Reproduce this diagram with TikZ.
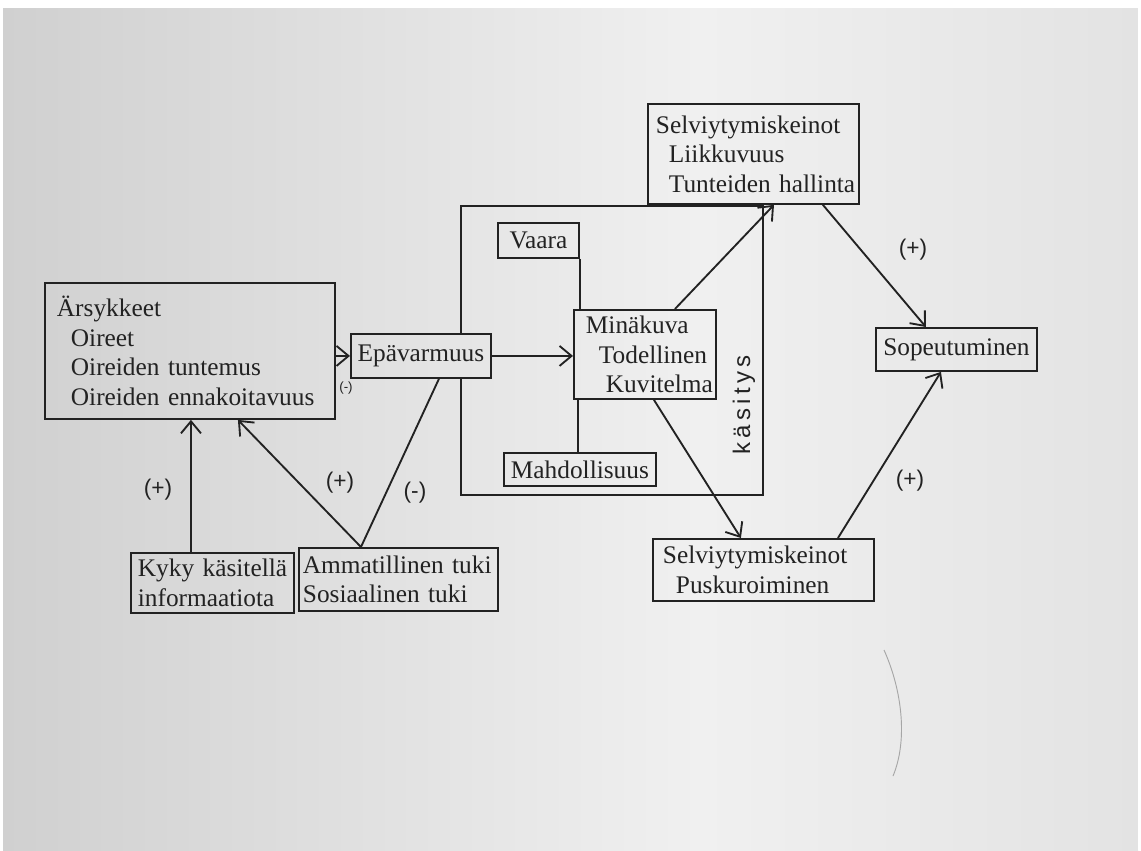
\documentclass[tikz,border=0pt]{standalone}
\usepackage{fontspec}
\setmainfont{Liberation Serif}
\newfontfamily\handfont{Liberation Sans}
\newfontfamily\handspaced[LetterSpace=18]{Liberation Sans}
\usetikzlibrary{arrows.meta,calc}
\definecolor{ink}{HTML}{222222}
\definecolor{bgL}{HTML}{D0D0D0}
\definecolor{bgM}{HTML}{F0F0F0}
\definecolor{bgR}{HTML}{E3E3E3}
\newcommand{\tline}[1]{\mbox{#1}}
\begin{document}
\begin{tikzpicture}[x=0.75pt,y=-0.75pt,
  box/.style={draw=ink, line width=1.4pt, rectangle, anchor=north west, inner ysep=0pt,
    font=\fontsize{19}{22.1}\selectfont, text=ink, align=left},
  arr/.style={draw=ink, line width=1.4pt, -{Straight Barb[length=9pt,width=15pt,line width=1.4pt]}},
  con/.style={draw=ink, line width=1.4pt},
  sign/.style={font=\handfont\fontsize{17}{17}\selectfont, text=ink}]
\useasboundingbox (0,0) rectangle (1141,850);
% background paper
\shade[left color=bgL, right color=bgM] (3,8) rectangle (700,850);
\shade[left color=bgM, right color=bgR] (700,8) rectangle (1138,850);
\fill[white] (0,0) rectangle (1141,8);
\fill[white] (0,0) rectangle (3,850);
\fill[white] (1138,0) rectangle (1141,850);
% pencil mark
\draw[gray!70, line width=0.7pt] (884,650) .. controls (902,690) and (908,740) .. (893,776);

% nodes
\node[box, minimum width=217.5pt, minimum height=102pt, inner xsep=9pt, text width=199.5pt] (ars) at (44,282)
  {\tline{Ärsykkeet}\\\tline{\hspace*{10.5pt}Oireet}\\\tline{\hspace*{10.5pt}Oireiden tuntemus}\\\tline{\hspace*{10.5pt}Oireiden ennakoitavuus}};
\node[box, minimum width=105pt, minimum height=33pt, inner xsep=0pt] (epa) at (350,333) {Epävarmuus};
\node[box, minimum width=60.75pt, minimum height=26.25pt, inner xsep=0pt] (vaara) at (497,222) {Vaara};
\node[box, minimum width=106.5pt, minimum height=66.75pt, inner xsep=9pt, text width=88.5pt] (mina) at (573,309)
  {\tline{Minäkuva}\\\tline{\hspace*{9.75pt}Todellinen}\\\tline{\hspace*{15pt}Kuvitelma}};
\node[box, minimum width=114pt, minimum height=24.75pt, inner xsep=0pt] (mahd) at (503,452) {Mahdollisuus};
\node[box, minimum width=158.25pt, minimum height=75pt, inner xsep=6pt, text width=146.25pt] (selvA) at (647,103)
  {\tline{Selviytymiskeinot}\\\tline{\hspace*{9.75pt}Liikkuvuus}\\\tline{\hspace*{9.75pt}Tunteiden hallinta}};
\node[box, minimum width=120.75pt, minimum height=32.25pt, inner xsep=0pt] (sop) at (875,327) {Sopeutuminen};
\node[box, minimum width=165.75pt, minimum height=46.5pt, inner xsep=7.5pt, text width=150.75pt] (selvB) at (652,538)
  {\tline{Selviytymiskeinot}\\\tline{\hspace*{9.75pt}Puskuroiminen}};
\node[box, minimum width=122.25pt, minimum height=45pt, inner xsep=5.25pt, text width=111.75pt] (kyky) at (130,552)
  {\tline{Kyky käsitellä}\\\tline{informaatiota}};
\node[box, minimum width=149.25pt, minimum height=47.25pt, inner xsep=3pt, text width=143.25pt] (amm) at (298,547)
  {\tline{Ammatillinen tuki}\\\tline{Sosiaalinen tuki}};

% frame (käsitys)
\coordinate (ftl) at (461,206);
\coordinate (fbr) at (763,495);
\draw[con] (epa.north -| ftl) -- (ftl) -- (ftl -| fbr) -- (fbr) -- (fbr -| ftl) -- (epa.south -| ftl);
\node[sign, rotate=90] (kasitys) at (744,405) {\handspaced\fontsize{18}{18}\selectfont käsitys};

% connectors
\draw[arr] (ars.east |- epa.west) -- (epa.west);
\draw[arr] (epa.east) -- (mina.west |- epa.east);
\draw[con] (vaara.south east) -- (vaara.south east |- mina.north);
\draw[con] ([xshift=3.75pt]mina.south west) -- ([xshift=3.75pt]mina.south west |- mahd.north);
\draw[arr] ([xshift=22.5pt]mina.north) -- ([xshift=15.4pt]selvA.south);
\draw[arr] ([xshift=6.75pt]mina.south) -- ([xshift=-16.9pt]selvB.north);
\draw[arr] ([xshift=52.1pt]selvA.south) -- ([xshift=-22.9pt]sop.north);
\draw[arr] ([xshift=55.9pt]selvB.north) -- ([xshift=-11.6pt]sop.south);
\draw[arr] ([xshift=-16.1pt]kyky.north) -- ([xshift=-16.1pt]kyky.north |- ars.south);
\draw[arr] ([xshift=-28.1pt]amm.north) -- ([xshift=36pt]ars.south);
\draw[con] ([xshift=-28.1pt]amm.north) -- ([xshift=13.5pt]epa.south);

% signs
\node[sign] (s1) at (158,490) {(+)};
\node[sign] (s2) at (340,483) {(+)};
\node[sign] (s3) at (415,493) {(-)};
\node[sign, font=\handfont\fontsize{10}{10}\selectfont] (s4) at (346,388) {(-)};
\node[sign] (s5) at (913,250) {(+)};
\node[sign] (s6) at (910,481) {(+)};
\end{tikzpicture}
\end{document}
